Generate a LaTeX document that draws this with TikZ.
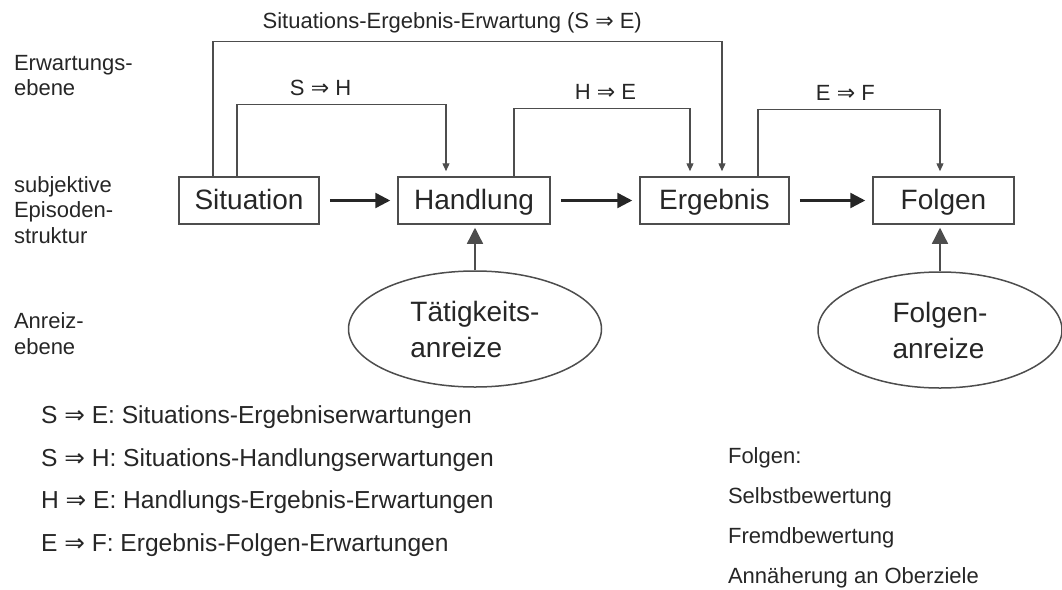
\documentclass[tikz,border=0pt]{standalone}
\usepackage{fontspec}
\setmainfont{Liberation Sans}
\newfontfamily\pfeilfont{DejaVu Sans}
\usetikzlibrary{arrows.meta,shapes.geometric}
\definecolor{ink}{HTML}{262626}
\definecolor{linie}{HTML}{4D4D4D}
\newcommand{\impl}{{\pfeilfont ⇒}}

\begin{document}
\begin{tikzpicture}[x=0.5pt,y=-0.5pt,>=Latex,
  box/.style={draw=linie,line width=0.75pt,text=ink,minimum height=23.5pt,inner sep=0pt,text height=11pt,text depth=2pt,font=\fontsize{14}{17}\selectfont},
  anreiz/.style={ellipse,draw=linie,line width=0.75pt,text=ink,align=left,minimum height=58pt,inner sep=0pt,font=\fontsize{14}{18}\selectfont},
  flow/.style={-{Triangle[length=7.5pt,width=7.5pt]},line width=1.25pt,draw=ink,shorten <=5pt,shorten >=3.5pt},
  push/.style={-{Triangle[length=8pt,width=8pt]},line width=0.65pt,draw=linie,shorten >=1.5pt},
  erw/.style={-{Triangle[length=4pt,width=3.5pt]},line width=0.65pt,draw=linie,shorten >=2.5pt},
  erwlabel/.style={above=0.5pt,text=ink,font=\fontsize{11}{13}\selectfont},
  ebene/.style={anchor=west,align=left,text=ink,font=\fontsize{11}{12.8}\selectfont}]
\useasboundingbox (0,0) rectangle (1062,590);

% Ebenen links
\node[ebene] (erwebene) at (7,75.5) {Erwartungs-\\ebene};
\node[ebene] (episode) at (7,210) {subjektive\\Episoden-\\struktur};
\node[ebene] (anrebene) at (7,333.5) {Anreiz-\\ebene};

% Episodenstruktur
\node[box,minimum width=70pt] (sit) at (249,200.5) {Situation};
\node[box,minimum width=76pt] (hand) at (474,200.5) {Handlung};
\node[box,minimum width=74.5pt] (erg) at (714.5,200.5) {Ergebnis};
\node[box,minimum width=70.5pt] (folg) at (943.5,200.5) {Folgen};
\draw[flow] (sit) -- (hand);
\draw[flow] (hand) -- (erg);
\draw[flow] (erg) -- (folg);

% Anreize
\node[anreiz,minimum width=126.5pt] (taet) at (475,329) {Tätigkeits-\\anreize};
\node[anreiz,minimum width=122pt] (folgan) at (940,330) {Folgen-\\anreize};
\draw[push] (taet.north) -- (taet.north |- hand.south);
\draw[push] (folgan.north) -- (folgan.north |- folg.south);

% Erwartungen
\draw[erw] ([xshift=-18pt]sit.north) -- ++(0,-135) -| node[erwlabel,pos=0.235] {Situations-Ergebnis-Erwartung (S \impl{} E)} ([xshift=3.75pt]erg.north);
\draw[erw] ([xshift=-6pt]sit.north) -- ++(0,-72) -| node[erwlabel,pos=0.2] {S \impl{} H} ([xshift=-14pt]hand.north);
\draw[erw] ([xshift=20pt]hand.north) -- ++(0,-68) -| node[erwlabel,pos=0.26] {H \impl{} E} ([xshift=-12.25pt]erg.north);
\draw[erw] ([xshift=21.75pt]erg.north) -- ++(0,-67) -| node[erwlabel,pos=0.24] {E \impl{} F} ([xshift=-1.75pt]folg.north);

% Legenden
\node[anchor=west,align=left,text=ink,font=\fontsize{12.3}{21.3}\selectfont] (legende) at (34,481) {S \impl{} E: Situations-Ergebniserwartungen\\S \impl{} H: Situations-Handlungserwartungen\\H \impl{} E: Handlungs-Ergebnis-Erwartungen\\E \impl{} F: Ergebnis-Folgen-Erwartungen};
\node[anchor=west,align=left,text=ink,font=\fontsize{11}{20}\selectfont] (folgenliste) at (721,518) {Folgen:\\Selbstbewertung\\Fremdbewertung\\Annäherung an Oberziele};
\end{tikzpicture}
\end{document}
